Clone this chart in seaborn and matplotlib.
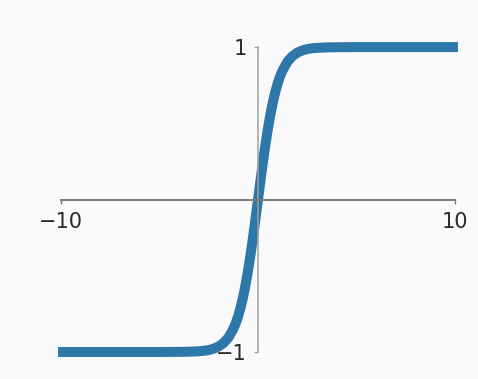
import pandas as pd
import matplotlib.pyplot as plt
import seaborn as sns

# values (an S shape from -1 up to 1), right half
x_half = [0, 0.125, 0.25, 0.375, 0.5, 0.625, 0.75, 0.875, 1.0, 1.125, 1.25, 1.5,
          1.75, 2.0, 2.25, 2.5, 2.75, 3, 3.5, 4, 5, 6, 8, 10.15]
y_half = [0.0, 0.124, 0.245, 0.358, 0.462, 0.555, 0.635, 0.704, 0.762, 0.810, 0.848,
          0.905, 0.941, 0.964, 0.978, 0.987, 0.992, 0.995, 0.998, 0.999, 1.0, 1.0,
          1.0, 1.0]
# the curve is point-symmetric, so the left half mirrors the right one
x_vals = [-v for v in x_half[:0:-1]] + x_half
y_vals = [-v for v in y_half[:0:-1]] + y_half
x_ticks = [-10, 10]
y_ticks = [-1, 1]

df = pd.DataFrame({'x': x_vals, 'y': y_vals})

sns.set_theme(style="white")
plt.rcParams['font.family'] = ['DejaVu Sans']
bg = '#fafafc'

fig = plt.figure(figsize=(4.78, 3.79), dpi=100, facecolor=bg)
ax = fig.add_axes([0.0864, 0.031, 0.9067, 0.885], facecolor=bg)

sns.lineplot(data=df, x='x', y='y', ax=ax, color='#2d78a8', linewidth=7.2,
             solid_capstyle='butt', solid_joinstyle='round', sort=False)

ax.set_xlim(-11, 11)
ax.set_ylim(-1.1, 1.1)
ax.set_xlabel('')
ax.set_ylabel('')

for s in ['top', 'right']:
    ax.spines[s].set_visible(False)
ax.spines['left'].set_position(('data', 0))
ax.spines['bottom'].set_position(('data', 0))
ax.spines['left'].set_bounds(-1, 1)
ax.spines['bottom'].set_bounds(-10, 10)
ax.spines['left'].set_color('#a0a0a0')
ax.spines['bottom'].set_color('#7a7a7a')
ax.spines['left'].set_linewidth(1.1)
ax.spines['bottom'].set_linewidth(1.4)

ax.set_xticks(x_ticks)
ax.set_xticklabels(['\u221210', '10'])
ax.set_yticks(y_ticks)
ax.set_yticklabels(['\u22121', '1'])
ax.tick_params(axis='x', length=3, width=1, color='#7a7a7a', pad=6,
               labelsize=15, labelcolor='#2a2a2a', bottom=True)
ax.tick_params(axis='y', length=3, width=1, color='#a0a0a0', pad=5,
               labelsize=15, labelcolor='#2a2a2a', left=True)
for lab in ax.get_xticklabels() + ax.get_yticklabels():
    lab.set_fontweight('medium')

plt.savefig('out.png', dpi=100, facecolor=bg)
